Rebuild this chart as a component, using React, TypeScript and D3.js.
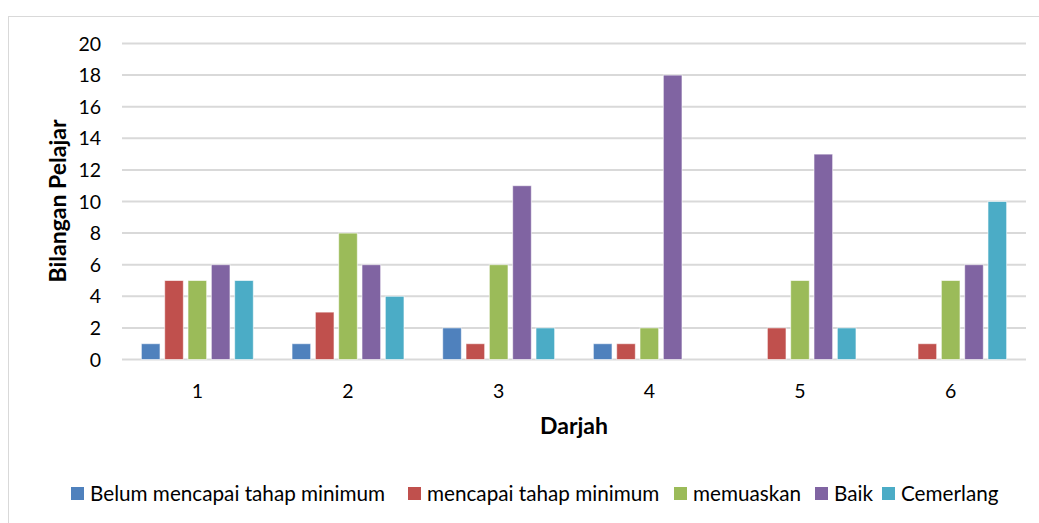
import React from "react";
import * as d3 from "d3";

const categories = ["1", "2", "3", "4", "5", "6"];
const seriesNames = ["Belum mencapai tahap minimum", "mencapai tahap minimum", "memuaskan", "Baik", "Cemerlang"];
const seriesColors = ["#4F81BD", "#C0504D", "#9BBB59", "#8064A2", "#4BACC6"];
const belum = [1, 1, 2, 1, 0, 0];
const mencapai = [5, 3, 1, 1, 2, 1];
const memuaskan = [5, 8, 6, 2, 5, 5];
const baik = [6, 6, 11, 18, 13, 6];
const cemerlang = [5, 4, 2, 0, 2, 10];
const yTicks = [0, 2, 4, 6, 8, 10, 12, 14, 16, 18, 20];

const seriesValues = [belum, mencapai, memuaskan, baik, cemerlang];

const W = 1039;
const H = 523;
const font = "Lato, sans-serif";

export default function App() {
  const left = 122, right = 1026, top = 43.5, bottom = 359.5;
  const x0 = d3.scaleBand<string>().domain(categories).range([left, right]).paddingInner(0.226).paddingOuter(0.113);
  const x1 = d3.scaleBand<number>().domain(d3.range(seriesNames.length)).range([0, x0.bandwidth()]).paddingInner(0.2).paddingOuter(0.1);
  const y = d3.scaleLinear().domain([0, 20]).range([bottom, top]);

  const legendX = [71, 408, 674, 815, 882];

  return (
    <svg width={W} height={H} style={{ position: "absolute", left: 0, top: 0, fontFamily: font }}>
      <rect x={0} y={0} width={W} height={H} fill="#fff" />
      <rect x={8.5} y={16.5} width={W + 10} height={H + 10} fill="#fff" stroke="#D9D9D9" strokeWidth={1} />
      {yTicks.map((t) => (
        <g key={t}>
          <line x1={left} x2={right} y1={y(t)} y2={y(t)} stroke="#D9D9D9" strokeWidth={2} />
          <text x={101} y={y(t)} dy="0.36em" textAnchor="end" fontSize={19.5} fill="#000">{t}</text>
        </g>
      ))}
      {categories.map((c, ci) => (
        <g key={c} transform={`translate(${x0(c)},0)`}>
          {seriesValues.map((vals, si) => {
            const v = vals[ci];
            if (!v) return null;
            return (
              <rect key={si} x={x1(si)} y={y(v)} width={x1.bandwidth()} height={y(0) - y(v)}
                fill={seriesColors[si]} stroke="#fff" strokeOpacity={0.6} strokeWidth={1} />
            );
          })}
          <text x={x0.bandwidth() / 2} y={391} dy="0.36em" textAnchor="middle" fontSize={19.5} fill="#000">{c}</text>
        </g>
      ))}
      <text transform={`translate(58,${201}) rotate(-90)`} textAnchor="middle" dy="0.36em" fontSize={23} fontWeight="bold" fill="#000">Bilangan Pelajar</text>
      <text x={574} y={426} dy="0.36em" textAnchor="middle" fontSize={23} fontWeight="bold" fill="#000">Darjah</text>
      {seriesNames.map((n, i) => (
        <g key={n}>
          <rect x={legendX[i]} y={487} width={13} height={13} fill={seriesColors[i]} />
          <text x={legendX[i] + 19} y={493.5} dy="0.36em" fontSize={20.7} fill="#000">{n}</text>
        </g>
      ))}
    </svg>
  );
}
